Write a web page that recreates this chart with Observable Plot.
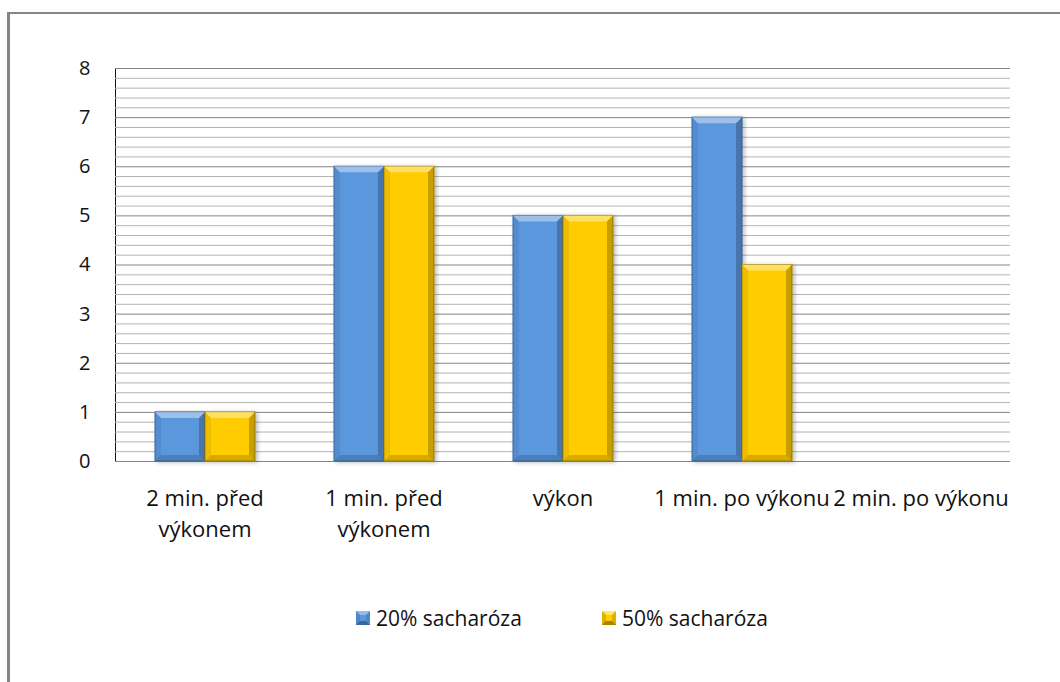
<!DOCTYPE html>
<html>
<head>
<meta charset="utf-8">
<script src="https://cdn.jsdelivr.net/npm/d3@7"></script>
<script src="https://cdn.jsdelivr.net/npm/@observablehq/plot@0.6"></script>
<style>
  html, body { margin: 0; padding: 0; background: #fff; }
  #wrap { position: relative; width: 1060px; height: 682px; overflow: hidden; font-family: "Open Sans", Lato, sans-serif; }
  #border { position: absolute; left: 7px; top: 12px; right: -10px; bottom: -10px; border-left: 3px solid #858585; border-top: 2px solid #858585; }
  #chart { position: absolute; left: 0; top: 0; }
  #chart g[aria-label="y-axis line"] { stroke: #858585; }
  #chart g[aria-label="bar"] { filter: drop-shadow(2px 1px 2px rgba(0,0,0,0.28)); }
  #legend { position: absolute; top: 604px; left: 0; width: 1060px; font-size: 21px; color: #111; }
  .item { position: absolute; display: flex; align-items: center; white-space: nowrap; }
  .swatch { width: 6px; height: 6px; border-style: solid; border-width: 4px; margin-right: 6px; }
</style>
</head>
<body>
<div id="wrap">
  <div id="border"></div>
  <div id="chart"></div>
  <div id="legend"></div>
</div>
<script>
// Categories along the horizontal axis
const categories = ["2 min. před výkonem", "1 min. před výkonem", "výkon", "1 min. po výkonu", "2 min. po výkonu"];
// Tick labels as they wrap under each group
const categoryLabels = ["2 min. před\nvýkonem", "1 min. před\nvýkonem", "výkon", "1 min. po výkonu", "2 min. po výkonu"];
// The two series
const seriesNames = ["20% sacharóza", "50% sacharóza"];
const values20 = [1, 6, 5, 7, null];
const values50 = [1, 6, 5, 4, null];
// Value axis
const yTicks = [0, 1, 2, 3, 4, 5, 6, 7, 8];
const minorTicks = d3.range(0, 8, 0.2).map(v => Math.round(v * 10) / 10).filter(v => !Number.isInteger(v));

const colors = ["#5b97dd", "#ffcc00"];
const strokes = ["#3d6da8", "#b58f00"];

const rows = categories.flatMap((c, i) => [
  {category: c, series: seriesNames[0], value: values20[i]},
  {category: c, series: seriesNames[1], value: values50[i]}
]).filter(d => d.value != null);

const chart = Plot.plot({
  width: 1060,
  height: 560,
  marginTop: 68,
  marginBottom: 99,
  marginLeft: 113,
  marginRight: 49,
  style: {fontFamily: "'Open Sans', Lato, sans-serif", fontSize: "20px", color: "#111", background: "transparent", overflow: "visible"},
  fx: {domain: categories, padding: 0, axis: null},
  x: {domain: seriesNames, paddingInner: 0, paddingOuter: 0.78, axis: null},
  y: {domain: [0, 8], ticks: yTicks, tickSize: 0, tickPadding: 25, line: true, label: null},
  color: {domain: seriesNames, range: colors},
  marks: [
    Plot.ruleY(minorTicks, {stroke: "#b3b3b3", strokeWidth: 1}),
    Plot.ruleY(yTicks, {stroke: "#858585", strokeWidth: 1}),
    Plot.barY(rows, {
      fx: "category", x: "series", y: "value",
      fill: "series",
      stroke: d => strokes[seriesNames.indexOf(d.series)],
      strokeWidth: 1
    }),
    Plot.text(categories, {
      fx: d => d,
      text: (d, i) => categoryLabels[i],
      frameAnchor: "bottom",
      lineAnchor: "top",
      lineHeight: 1.4,
      dy: 23,
      fill: "#111",
      fontSize: 22
    })
  ]
});
document.getElementById("chart").append(chart);

// Bevelled edges on each bar, drawn inside the bar's own group
const ns = "http://www.w3.org/2000/svg";
chart.querySelectorAll('g[aria-label="bar"] rect').forEach(r => {
  const x = +r.getAttribute("x"), y = +r.getAttribute("y");
  const w = +r.getAttribute("width"), h = +r.getAttribute("height");
  const b = Math.min(6, h / 3);
  const faces = [
    {pts: [[x, y], [x + w, y], [x + w - b, y + b], [x + b, y + b]], fill: "#fff", op: 0.4},
    {pts: [[x, y + h], [x + w, y + h], [x + w - b, y + h - b], [x + b, y + h - b]], fill: "#000", op: 0.16},
    {pts: [[x, y], [x + b, y + b], [x + b, y + h - b], [x, y + h]], fill: "#000", op: 0.07},
    {pts: [[x + w, y], [x + w - b, y + b], [x + w - b, y + h - b], [x + w, y + h]], fill: "#000", op: 0.22}
  ];
  const parent = r.parentNode;
  for (const f of faces) {
    const p = document.createElementNS(ns, "polygon");
    p.setAttribute("points", f.pts.map(q => q.join(",")).join(" "));
    p.setAttribute("fill", f.fill);
    p.setAttribute("fill-opacity", f.op);
    const t = r.getAttribute("transform");
    if (t) p.setAttribute("transform", t);
    parent.append(p);
  }
});

// Legend below the plot
const legend = document.getElementById("legend");
const legendLeft = [356, 602];
const bevel = [
  {top: "#8dbdf0", side: "#4f86c8", bottom: "#3a67a0"},
  {top: "#ffe95a", side: "#e0b000", bottom: "#a88400"}
];
seriesNames.forEach((name, i) => {
  const item = document.createElement("div");
  item.className = "item";
  item.style.left = legendLeft[i] + "px";
  const sw = document.createElement("span");
  sw.className = "swatch";
  sw.style.background = colors[i];
  sw.style.borderColor = `${bevel[i].top} ${bevel[i].side} ${bevel[i].bottom} ${bevel[i].side}`;
  const label = document.createElement("span");
  label.textContent = name;
  item.append(sw, label);
  legend.append(item);
});
</script>
</body>
</html>
